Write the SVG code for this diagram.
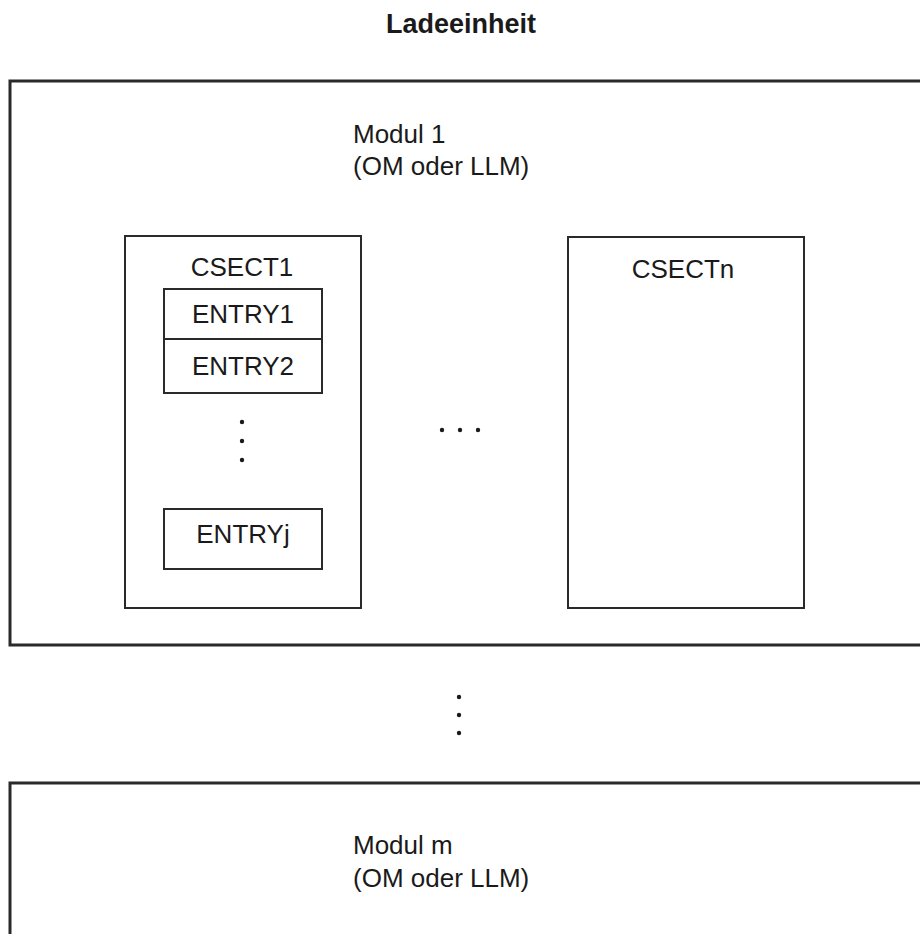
<svg xmlns="http://www.w3.org/2000/svg" width="920" height="934" viewBox="0 0 920 934">
<style>
  .box { fill: none; stroke: #2a2a2a; stroke-width: 2; }
  .outer { fill: none; stroke: #2a2a2a; stroke-width: 3; }
  .t { font-family: "Liberation Sans", Arial, sans-serif; font-size: 26px; fill: #1a1a1a; }
  .c { text-anchor: middle; }
  .title { font-family: "Liberation Sans", Arial, sans-serif; font-size: 27px; font-weight: bold; fill: #1a1a1a; text-anchor: middle; }
  .dot { fill: #1a1a1a; }
</style>
<rect width="920" height="934" fill="#ffffff"/>
<g id="title">
  <text class="title" x="461" y="33">Ladeeinheit</text>
</g>
<g id="modul1">
  <path class="outer" d="M 930 81 H 10 V 645 H 930"/>
  <text class="t" x="353" y="143">Modul 1</text>
  <text class="t" x="353" y="175">(OM oder LLM)</text>
</g>
<g id="csect1">
  <rect class="box" x="125" y="236" width="236" height="372"/>
  <text class="t c" x="242" y="276">CSECT1</text>
</g>
<g id="entry1">
  <rect class="box" x="164" y="289" width="158" height="50"/>
  <text class="t c" x="243" y="323">ENTRY1</text>
</g>
<g id="entry2">
  <rect class="box" x="164" y="339" width="158" height="54"/>
  <text class="t c" x="243" y="375">ENTRY2</text>
</g>
<g id="entry-dots">
  <circle class="dot" cx="242" cy="422" r="2.2"/>
  <circle class="dot" cx="242" cy="441" r="2.2"/>
  <circle class="dot" cx="242" cy="460" r="2.2"/>
</g>
<g id="entryj">
  <rect class="box" x="164" y="509" width="158" height="60"/>
  <text class="t c" x="243" y="543">ENTRYj</text>
</g>
<g id="csect-dots">
  <circle class="dot" cx="442" cy="430" r="2.2"/>
  <circle class="dot" cx="460" cy="430" r="2.2"/>
  <circle class="dot" cx="478" cy="430" r="2.2"/>
</g>
<g id="csectn">
  <rect class="box" x="568" y="237" width="236" height="371"/>
  <text class="t c" x="683" y="278">CSECTn</text>
</g>
<g id="modul-dots">
  <circle class="dot" cx="459" cy="697" r="2.2"/>
  <circle class="dot" cx="459" cy="715" r="2.2"/>
  <circle class="dot" cx="459" cy="733" r="2.2"/>
</g>
<g id="modulm">
  <path class="outer" d="M 930 783 H 10 V 940"/>
  <text class="t" x="353" y="854">Modul m</text>
  <text class="t" x="353" y="887">(OM oder LLM)</text>
</g>
<g id="connectors"/>
</svg>
